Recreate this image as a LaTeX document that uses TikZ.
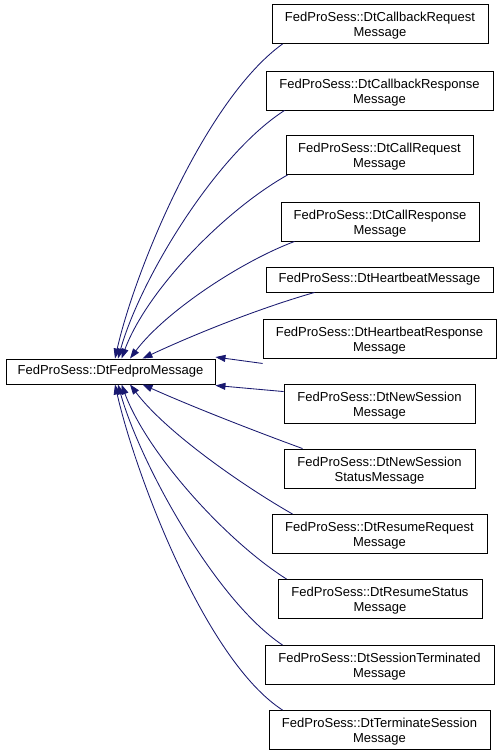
\documentclass[tikz,border=0pt]{standalone}
\usepackage{fontspec}
\setmainfont{Liberation Sans}
\usetikzlibrary{arrows.meta}
\definecolor{navyedge}{HTML}{191970}
\newcommand\mytopstrut{\rule{0pt}{13.5pt}}
\begin{document}
\begin{tikzpicture}[x=1pt,y=-1pt,
  cls/.style={draw=black,line width=0.9pt,fill=white,inner sep=0pt,align=center,
    font=\fontsize{13}{15}\selectfont,minimum height=39pt},
  one/.style={minimum height=25pt},
  inh/.style={draw=navyedge,line width=0.85pt,-{Triangle[length=10pt,width=7pt]}}]
\useasboundingbox (0,0) rectangle (501,756);
\fill[white] (0,0) rectangle (501,756);

\node[cls,one,minimum width=209pt] (base) at (110.5,371.5) {FedProSess::DtFedproMessage};

\node[cls,minimum width=216pt] (n1) at (380,24) {\mytopstrut FedProSess::DtCallbackRequest\\Message};
\node[cls,minimum width=227pt] (n2) at (379.5,90.5) {\mytopstrut FedProSess::DtCallbackResponse\\Message};
\node[cls,minimum width=187pt] (n3) at (379.5,155) {\mytopstrut FedProSess::DtCallRequest\\Message};
\node[cls,minimum width=198pt] (n4) at (380,221.5) {\mytopstrut FedProSess::DtCallResponse\\Message};
\node[cls,one,minimum width=227pt] (n5) at (379.5,279.5) {FedProSess::DtHeartbeatMessage};
\node[cls,minimum width=233pt] (n6) at (379.5,338.5) {\mytopstrut FedProSess::DtHeartbeatResponse\\Message};
\node[cls,minimum width=191pt] (n7) at (379.5,403.5) {\mytopstrut FedProSess::DtNewSession\\Message};
\node[cls,minimum width=191pt] (n8) at (379.5,468.5) {\mytopstrut FedProSess::DtNewSession\\StatusMessage};
\node[cls,minimum width=215pt] (n9) at (379.5,534) {\mytopstrut FedProSess::DtResumeRequest\\Message};
\node[cls,minimum width=204pt] (n10) at (380,599) {\mytopstrut FedProSess::DtResumeStatus\\Message};
\node[cls,minimum width=229pt] (n11) at (379.5,665) {\mytopstrut FedProSess::DtSessionTerminated\\Message};
\node[cls,minimum width=221pt] (n12) at (379.5,730) {\mytopstrut FedProSess::DtTerminateSession\\Message};

% upper edges
\draw[inh] ([xshift=11pt]n1.south west) .. controls (205,100) and (135,270) .. ([xshift=4.5pt]base.north);
\draw[inh] ([xshift=19pt]n2.south west) .. controls (215,155) and (140,280) .. ([xshift=7.5pt]base.north);
\draw[inh] ([xshift=2pt]n3.south west) .. controls (225,210) and (147,290) .. ([xshift=11pt]base.north);
\draw[inh] ([xshift=14pt]n4.south west) .. controls (240,262) and (165,312) .. ([xshift=19.5pt]base.north);
\draw[inh] ([xshift=49pt]n5.south west) .. controls (260,308) and (195,334) .. ([xshift=32pt]base.north);
\draw[inh] ([yshift=-5pt]n6.south west) -- ([yshift=1.5pt]base.north east);
% lower edges
\draw[inh] ([yshift=-8pt]n7.north west) -- ([yshift=-1pt]base.south east);
\draw[inh] ([xshift=19pt]n8.north west) .. controls (260,433) and (195,408) .. ([xshift=32pt]base.south);
\draw[inh] ([xshift=21pt]n9.north west) .. controls (240,484) and (165,431) .. ([xshift=19.5pt]base.south);
\draw[inh] ([xshift=9pt]n10.north west) .. controls (225,540) and (147,453) .. ([xshift=11pt]base.south);
\draw[inh] ([xshift=18pt]n11.north west) .. controls (215,600) and (140,463) .. ([xshift=7.5pt]base.south);
\draw[inh] ([xshift=14pt]n12.north west) .. controls (205,660) and (135,473) .. ([xshift=4.5pt]base.south);
\end{tikzpicture}
\end{document}
